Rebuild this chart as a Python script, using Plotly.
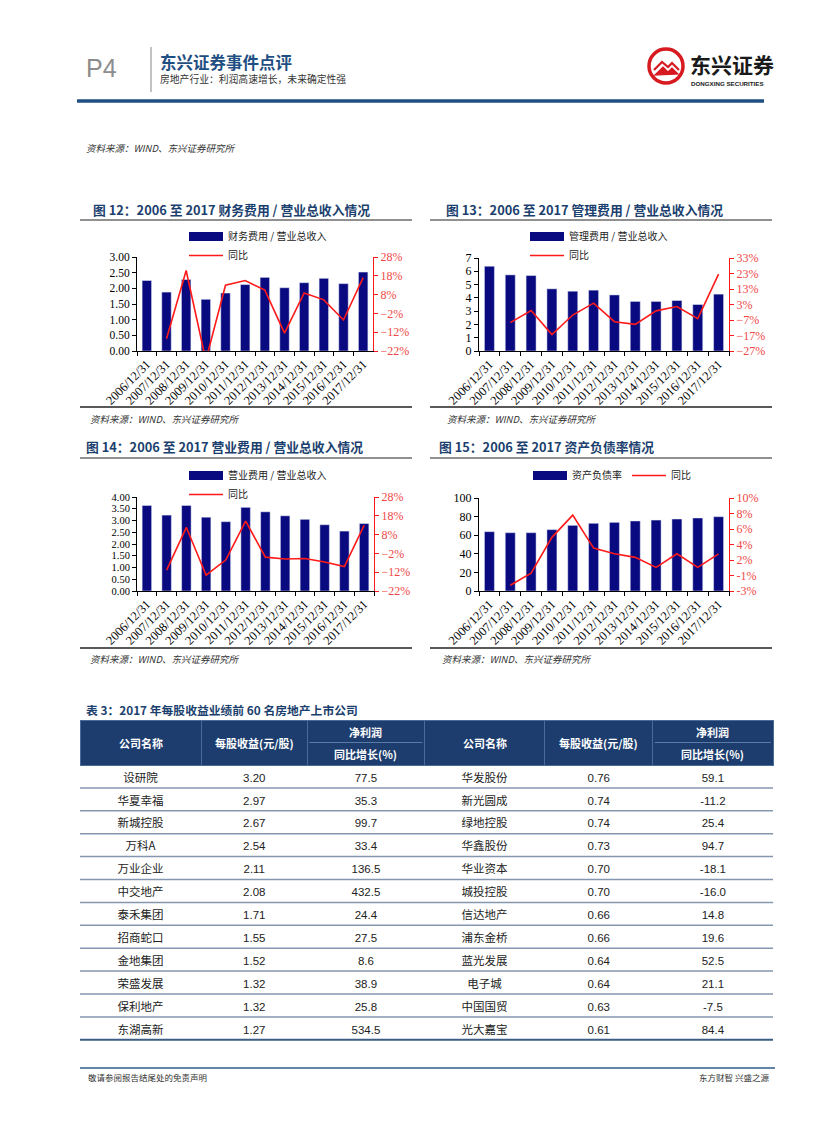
import plotly.graph_objects as go
import numpy as np

W, H = 827, 1122
OFF = 8  # page body margin compensation

# ---------------- data ----------------
dates = ["2006/12/31", "2007/12/31", "2008/12/31", "2009/12/31", "2010/12/31", "2011/12/31",
         "2012/12/31", "2013/12/31", "2014/12/31", "2015/12/31", "2016/12/31", "2017/12/31"]

fin_ratio = [2.25, 1.88, 2.28, 1.65, 1.85, 2.12, 2.35, 2.02, 2.18, 2.32, 2.15, 2.52]
fin_yoy = [None, -15.5, 20.8, -27.0, 13.0, 15.5, 10.4, -12.5, 8.9, 5.2, -5.5, 17.0]

mgmt_ratio = [6.38, 5.73, 5.68, 4.68, 4.50, 4.58, 4.22, 3.73, 3.73, 3.80, 3.50, 4.28]
mgmt_yoy = [None, -8.7, -0.9, -16.4, -3.8, 3.9, -8.1, -9.8, -1.1, 1.7, -6.1, 22.6]

sell_ratio = [3.64, 3.23, 3.64, 3.14, 2.95, 3.56, 3.37, 3.20, 3.05, 2.82, 2.55, 2.87]
sell_yoy = [None, -10.9, 11.8, -13.6, -5.4, 15.2, -4.0, -5.0, -4.7, -6.6, -9.0, 12.9]

debt_ratio = [63.8, 62.7, 62.7, 66.0, 70.6, 72.8, 73.8, 75.3, 76.3, 77.4, 78.5, 79.9]
debt_yoy = [None, -2.2, -0.5, 4.5, 7.6, 3.0, 2.2, 1.7, 0.3, 2.2, 0.3, 2.2]
debt_yoy_ticktext = ["-3%", "-1%", "2%", "4%", "6%", "8%", "10%"]

tbl_header_top = ["公司名称", "每股收益(元/股)", "净利润", "公司名称", "每股收益(元/股)", "净利润"]
tbl_header_sub = [None, None, "同比增长(%)", None, None, "同比增长(%)"]
left_names = ["设研院", "华夏幸福", "新城控股", "万科A", "万业企业", "中交地产",
              "泰禾集团", "招商蛇口", "金地集团", "荣盛发展", "保利地产", "东湖高新"]
left_eps = [3.20, 2.97, 2.67, 2.54, 2.11, 2.08, 1.71, 1.55, 1.52, 1.32, 1.32, 1.27]
left_growth = [77.5, 35.3, 99.7, 33.4, 136.5, 432.5, 24.4, 27.5, 8.6, 38.9, 25.8, 534.5]
right_names = ["华发股份", "新光圆成", "绿地控股", "华鑫股份", "华业资本", "城投控股",
               "信达地产", "浦东金桥", "蓝光发展", "电子城", "中国国贸", "光大嘉宝"]
right_eps = [0.76, 0.74, 0.74, 0.73, 0.70, 0.70, 0.66, 0.66, 0.64, 0.64, 0.63, 0.61]
right_growth = [59.1, -11.2, 25.4, 94.7, -18.1, -16.0, 14.8, 19.6, 52.5, 21.1, -7.5, 84.4]

# ---------------- style ----------------
NAVY = "#0a0a80"
RED = "#ff1a1a"
RED_T = "#f04848"
TITLE_BLUE = "#1b3f6e"
CJK = "Noto Sans CJK SC"
SERIF = "Liberation Serif"
NARROW = "Liberation Sans Narrow, Liberation Sans"


def px(x):
    return (x - OFF) / W


def py(y):
    return 1 - (y - OFF) / H


fig = go.Figure()

charts = [
    dict(x="x", yl="y", yr="y2", bars=fin_ratio, line=fin_yoy, name="财务费用 / 营业总收入",
         xd=(137, 373), yd=(257, 351), lrange=[0, 3], ldtick=0.5, lfmt=".2f", lsize=11.5,
         rrange=[-22, 28], rdtick=10, legend="legend"),
    dict(x="x2", yl="y3", yr="y4", bars=mgmt_ratio, line=mgmt_yoy, name="管理费用 / 营业总收入",
         xd=(479, 729), yd=(258, 351), lrange=[0, 7], ldtick=1, lfmt="d", lsize=12,
         rrange=[-27, 33], rdtick=10, legend="legend2"),
    dict(x="x3", yl="y5", yr="y6", bars=sell_ratio, line=sell_yoy, name="营业费用 / 营业总收入",
         xd=(137, 374), yd=(497, 591), lrange=[0, 4], ldtick=0.5, lfmt=".2f", lsize=10.5,
         rrange=[-22, 28], rdtick=10, legend="legend3"),
    dict(x="x4", yl="y7", yr="y8", bars=debt_ratio, line=debt_yoy, name="资产负债率",
         xd=(479, 729), yd=(498, 591), lrange=[0, 100], ldtick=20, lfmt="d", lsize=12,
         rrange=[-3, 10], rdtick=None, legend="legend4"),
]

layout_axes = {}
for c in charts:
    fig.add_trace(go.Bar(x=dates, y=c["bars"], marker_color=NAVY, xaxis=c["x"], yaxis=c["yl"],
                         showlegend=False, hoverinfo="x+y"))
    # legend proxy for the wide bar swatch
    fig.add_trace(go.Scatter(x=[None], y=[None], mode="lines", line=dict(color=NAVY, width=9),
                             name=c["name"], xaxis=c["x"], yaxis=c["yl"], legend=c["legend"]))
    fig.add_trace(go.Scatter(x=dates, y=c["line"], mode="lines", line=dict(color=RED, width=1.6),
                             name="同比", xaxis=c["x"], yaxis=c["yr"], legend=c["legend"],
                             connectgaps=False))
    xk = "xaxis" + c["x"][1:]
    ylk = "yaxis" + c["yl"][1:]
    yrk = "yaxis" + c["yr"][1:]
    layout_axes[xk] = dict(domain=[px(c["xd"][0]), px(c["xd"][1])], anchor=c["yl"],
                           type="category", showline=True, linecolor="black", linewidth=1,
                           ticks="outside", tickson="boundaries", ticklen=4, tickcolor="black",
                           tickangle=-45, tickfont=dict(family=SERIF, size=12.5, color="black"),
                           showgrid=False, zeroline=False, fixedrange=True, automargin=False)
    layout_axes[ylk] = dict(domain=[py(c["yd"][1]), py(c["yd"][0])], anchor=c["x"],
                            range=c["lrange"], dtick=c["ldtick"], tickformat=c["lfmt"],
                            showline=True, linecolor="black", linewidth=1, ticks="outside",
                            ticklen=4, tickcolor="black", showgrid=False, zeroline=False,
                            automargin=False,
                            tickfont=dict(family=SERIF, size=c["lsize"], color="black"))
    right = dict(overlaying=c["yl"], side="right", anchor=c["x"], range=c["rrange"],
                 showline=True, linecolor=RED, linewidth=1, ticks="outside", ticklen=4,
                 tickcolor=RED, showgrid=False, zeroline=False, automargin=False,
                 tickfont=dict(family=SERIF, size=12, color=RED_T))
    if c["rdtick"] is not None:
        right.update(dtick=c["rdtick"], tick0=c["rrange"][0], ticksuffix="%")
    else:
        right.update(tickmode="array",
                     tickvals=list(np.linspace(c["rrange"][0], c["rrange"][1], len(debt_yoy_ticktext))),
                     ticktext=debt_yoy_ticktext)
    layout_axes[yrk] = right

# ---------------- table ----------------
tbl_x0, tbl_x1 = 80, 773
tbl_top = 720
hdr_h = 45
row_h = 22.9
n_rows = len(left_names)
col_w = [121, 106, 117, 120, 108, 120]

fig.add_trace(go.Table(
    domain=dict(x=[px(tbl_x0), px(tbl_x1)], y=[py(tbl_top + hdr_h + row_h * n_rows + 2), py(tbl_top)]),
    columnwidth=col_w,
    header=dict(values=[""] * len(col_w), height=hdr_h,
                fill_color="#1d3d6e", line=dict(color="#4a6a98", width=1),
                font=dict(family=CJK, size=11, color="white"), align="center"),
    cells=dict(values=[left_names, left_eps, left_growth, right_names, right_eps, right_growth],
               format=[None, ".2f", ".1f", None, ".2f", ".1f"],
               height=row_h, fill_color="white", line=dict(color="white", width=1),
               font=dict(family=[CJK, NARROW, NARROW, CJK, NARROW, NARROW],
                         size=11.5, color="#222222"),
               align="center"),
))

# ---------------- shapes ----------------
shapes = []


def hline(x0, x1, y, color, width):
    shapes.append(dict(type="line", xref="paper", yref="paper", x0=px(x0), x1=px(x1),
                       y0=py(y), y1=py(y), line=dict(color=color, width=width)))


def vline(x, y0, y1, color, width):
    shapes.append(dict(type="line", xref="paper", yref="paper", x0=px(x), x1=px(x),
                       y0=py(y0), y1=py(y1), line=dict(color=color, width=width)))


# header
vline(151, 47, 92, "#9a9a9a", 1.2)
hline(77, 764, 101, "#1f4f82", 3.5)
# chart frames
for (a, b) in [(80, 412), (430, 772)]:
    hline(a, b, 220, "#222222", 1)
    hline(a, b, 407, "#222222", 1.5)
    hline(a, b, 458, "#222222", 1)
    hline(a, b, 648, "#222222", 1.5)
# table row separators
for k in range(1, n_rows + 1):
    yk = tbl_top + hdr_h + row_h * k
    if k == n_rows:
        hline(tbl_x0, tbl_x1, yk, "#3d5c86", 2)
    else:
        hline(tbl_x0, tbl_x1, yk, "#8496b0", 1.5)
# column geometry
cx = np.cumsum([0] + col_w) / sum(col_w) * (tbl_x1 - tbl_x0) + tbl_x0
for ci in range(len(col_w)):
    if tbl_header_sub[ci]:
        hline(cx[ci] + 2, cx[ci + 1] - 2, tbl_top + hdr_h / 2, "#5a7aa8", 1)
# footer
hline(80, 775, 1068, "#2e5c8a", 1.5)

# logo
shapes.append(dict(type="circle", xref="paper", yref="paper", x0=px(649), x1=px(683),
                   y0=py(83), y1=py(49), line=dict(color="#d71920", width=3.5), fillcolor="white"))
shapes.append(dict(type="path", xref="paper", yref="paper",
                   path=(f"M {px(654)},{py(70)} L {px(662)},{py(62)} L {px(668)},{py(67)} "
                         f"L {px(672)},{py(63)} L {px(679)},{py(70)}"),
                   line=dict(color="#d71920", width=2.2)))
shapes.append(dict(type="path", xref="paper", yref="paper",
                   path=(f"M {px(655)},{py(75)} L {px(663)},{py(67)} L {px(668)},{py(72)} "
                         f"L {px(672)},{py(68)} L {px(678)},{py(74)} Z"),
                   line=dict(color="#d71920", width=1.2), fillcolor="#d71920"))

# ---------------- annotations ----------------
ann = []


def txt(x, y, s, size, color="black", family=CJK, anchor="left", bold=False, italic=False):
    if bold:
        s = f"<b>{s}</b>"
    if italic:
        s = f"<i>{s}</i>"
    ann.append(dict(x=px(x), y=py(y), xref="paper", yref="paper", text=s, showarrow=False,
                    xanchor=anchor, yanchor="middle",
                    font=dict(family=family, size=size, color=color)))


txt(84, 68, "P4", 25, "#8c8c8c", family="Liberation Sans")
txt(158, 62, "东兴证券事件点评", 16.5, "#1f4f82", bold=True)
txt(158, 79, "房地产行业：利润高速增长，未来确定性强", 9.8, "#333333")
txt(688, 64, "东兴证券", 21, "#1a1a1a", bold=True)
txt(689, 83, "DONGXING SECURITIES", 6.2, "#1a1a1a", family="Liberation Sans", bold=True)

src = "资料来源：WIND、东兴证券研究所"
txt(84, 148, src, 9.5, "#333333", italic=True)
txt(88, 419, src, 9.5, "#333333", italic=True)
txt(445, 419, src, 9.5, "#333333", italic=True)
txt(88, 659, src, 9.5, "#333333", italic=True)
txt(440, 659, src, 9.5, "#333333", italic=True)

txt(91, 209, "图 12：2006 至 2017 财务费用 / 营业总收入情况", 12.8, TITLE_BLUE, bold=True)
txt(444, 209, "图 13：2006 至 2017 管理费用 / 营业总收入情况", 12.8, TITLE_BLUE, bold=True)
txt(84, 447, "图 14：2006 至 2017 营业费用 / 营业总收入情况", 12.8, TITLE_BLUE, bold=True)
txt(437, 447, "图 15：2006 至 2017 资产负债率情况", 12.8, TITLE_BLUE, bold=True)
txt(84, 710, "表 3：2017 年每股收益业绩前 60 名房地产上市公司", 11.8, TITLE_BLUE, bold=True)

# table header labels
for ci in range(len(col_w)):
    mid = (cx[ci] + cx[ci + 1]) / 2
    if tbl_header_sub[ci]:
        txt(mid, tbl_top + hdr_h * 0.26, tbl_header_top[ci], 11, "white", anchor="center", bold=True)
        txt(mid, tbl_top + hdr_h * 0.76, tbl_header_sub[ci], 11, "white", anchor="center", bold=True)
    else:
        txt(mid, tbl_top + hdr_h / 2, tbl_header_top[ci], 11, "white", anchor="center", bold=True)

txt(86, 1077, "敬请参阅报告结尾处的免责声明", 8.5, "#333333")
txt(771, 1077, "东方财智 兴盛之源", 8.5, "#333333", anchor="right")

leg_font = dict(family=CJK, size=10, color="#222222")
legends = dict(
    legend=dict(x=px(184), y=py(222), xanchor="left", yanchor="top", orientation="v",
                font=leg_font, bgcolor="rgba(0,0,0,0)", itemwidth=34, tracegroupgap=0),
    legend2=dict(x=px(525), y=py(222), xanchor="left", yanchor="top", orientation="v",
                 font=leg_font, bgcolor="rgba(0,0,0,0)", itemwidth=34, tracegroupgap=0),
    legend3=dict(x=px(184), y=py(461), xanchor="left", yanchor="top", orientation="v",
                 font=leg_font, bgcolor="rgba(0,0,0,0)", itemwidth=34, tracegroupgap=0),
    legend4=dict(x=px(528), y=py(461), xanchor="left", yanchor="top", orientation="h",
                 font=leg_font, bgcolor="rgba(0,0,0,0)", itemwidth=34, tracegroupgap=0),
)

fig.update_layout(
    width=W, height=H, margin=dict(l=0, r=0, t=0, b=0, autoexpand=False),
    paper_bgcolor="white", plot_bgcolor="white",
    barmode="group", bargap=0.52, showlegend=True,
    shapes=shapes, annotations=ann, **legends, **layout_axes,
)

fig.write_html("out.html")
